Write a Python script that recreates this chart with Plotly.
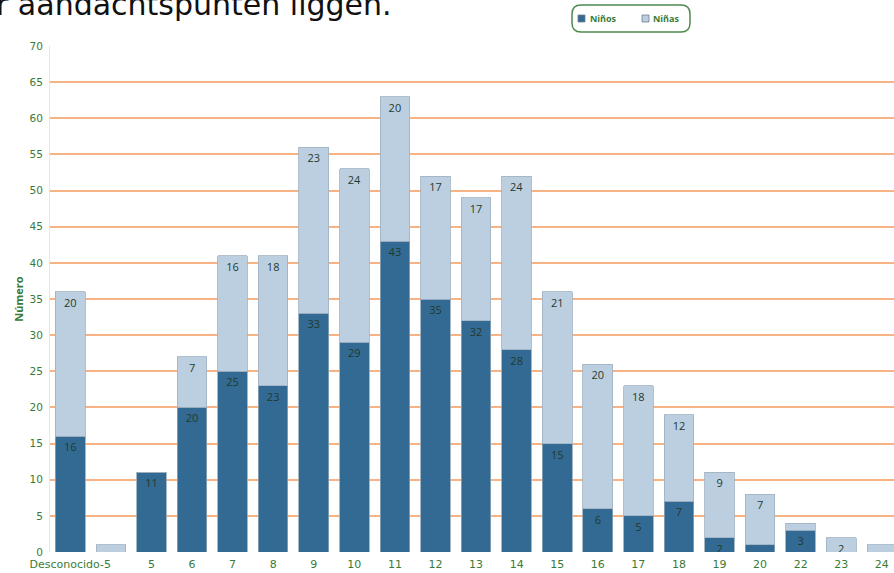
import plotly.graph_objects as go

categories = ["Desconocido-5", "", "5", "6", "7", "8", "9", "10", "11", "12", "13",
              "14", "15", "16", "17", "18", "19", "20", "22", "23", "24"]
ninos = [16, 0, 11, 20, 25, 23, 33, 29, 43, 35, 32, 28, 15, 6, 5, 7, 2, 1, 3, 0, 0]
ninas = [20, 1, 0, 7, 16, 18, 23, 24, 20, 17, 17, 24, 21, 20, 18, 12, 9, 7, 1, 2, 1]
series_names = ["Niños", "Niñas"]
y_ticks = list(range(0, 75, 5))

W, H = 894, 573
L, R, T, B = 50, 0, 46, 21
pw, ph = W - L - R, H - T - B

def px(x):
    return (x - L) / pw

def py(y):
    return (H - B - y) / ph

xs = list(range(len(categories)))
lab = lambda vals: [str(v) if v >= 2 else "" for v in vals]

DARK = "#336a93"
LIGHT = "#bccfe1"
GREEN = "#3a7a37"
TXT = "#1f3a2c"
FONT = "Open Sans"
AXF = "DejaVu Sans"

fig = go.Figure()
fig.add_trace(go.Bar(
    x=xs, y=ninos, name=series_names[0], marker=dict(color=DARK, line=dict(color="#8fa6b8", width=0.8)),
    text=lab(ninos), textposition="inside", insidetextanchor="end", constraintext="none",
    textangle=0, textfont=dict(size=11, color=TXT, family=FONT),
))
fig.add_trace(go.Bar(
    x=xs, y=ninas, name=series_names[1], marker=dict(color=LIGHT, line=dict(color="#9fb0c0", width=0.8)),
    text=lab(ninas), textposition="inside", insidetextanchor="end", constraintext="none",
    textangle=0, textfont=dict(size=11, color=TXT, family=FONT),
))

# rounded legend box
x0, x1, y0, y1, r = 572, 690, 5, 32, 9
path = (f"M {px(x0 + r)} {py(y0)} L {px(x1 - r)} {py(y0)} Q {px(x1)} {py(y0)} {px(x1)} {py(y0 + r)} "
        f"L {px(x1)} {py(y1 - r)} Q {px(x1)} {py(y1)} {px(x1 - r)} {py(y1)} "
        f"L {px(x0 + r)} {py(y1)} Q {px(x0)} {py(y1)} {px(x0)} {py(y1 - r)} "
        f"L {px(x0)} {py(y0 + r)} Q {px(x0)} {py(y0)} {px(x0 + r)} {py(y0)} Z")

shapes = [dict(type="path", path=path, xref="paper", yref="paper",
               line=dict(color="#4f8a4f", width=1.5), fillcolor="rgba(0,0,0,0)")]
annotations = []
for (sx, tx), col, name in zip([(578, 588), (642, 651)], [DARK, LIGHT], series_names):
    shapes.append(dict(type="rect", xref="paper", yref="paper",
                       x0=px(sx), x1=px(sx + 7), y0=py(15), y1=py(22),
                       fillcolor=col, line=dict(color="#6f7f8f", width=0.8)))
    annotations.append(dict(text=f"<b>{name}</b>", xref="paper", yref="paper", x=px(tx), y=py(18.5),
                            xanchor="left", yanchor="middle", showarrow=False,
                            font=dict(size=9, color=GREEN, family=FONT)))

annotations.append(dict(text="r aandachtspunten liggen.", xref="paper", yref="paper",
                        x=px(-6), y=py(4.5), xanchor="left", yanchor="middle", showarrow=False,
                        font=dict(size=30, color="#111111", family="DejaVu Sans")))

fig.update_layout(
    width=W, height=H,
    margin=dict(l=L, r=R, t=T, b=B, pad=0, autoexpand=False),
    paper_bgcolor="white", plot_bgcolor="white",
    barmode="stack", bargap=0.27,
    showlegend=False,
    shapes=shapes,
    annotations=annotations,
    xaxis=dict(range=[-0.5, 20.3], tickmode="array", tickvals=xs, ticktext=categories,
               showgrid=False, zeroline=False, showline=False, automargin=False,
               ticks="outside", ticklen=2, tickcolor="rgba(0,0,0,0)",
               tickfont=dict(size=11, color=GREEN, family=AXF)),
    yaxis=dict(range=[0, 70], tickmode="array", tickvals=y_ticks, automargin=False,
               showgrid=True, gridcolor="#f7b383", gridwidth=2, zeroline=False,
               showline=True, linecolor="#e6e6e6", linewidth=1,
               ticks="outside", ticklen=4, tickcolor="rgba(0,0,0,0)",
               tickfont=dict(size=10.5, color=GREEN, family=AXF),
               title=dict(text="<b>Número</b>", font=dict(size=11, color=GREEN, family=FONT), standoff=3)),
)

fig.write_html("out.html", config={"displayModeBar": False},
               post_script="document.body.style.margin='0';document.body.style.overflow='hidden';")
